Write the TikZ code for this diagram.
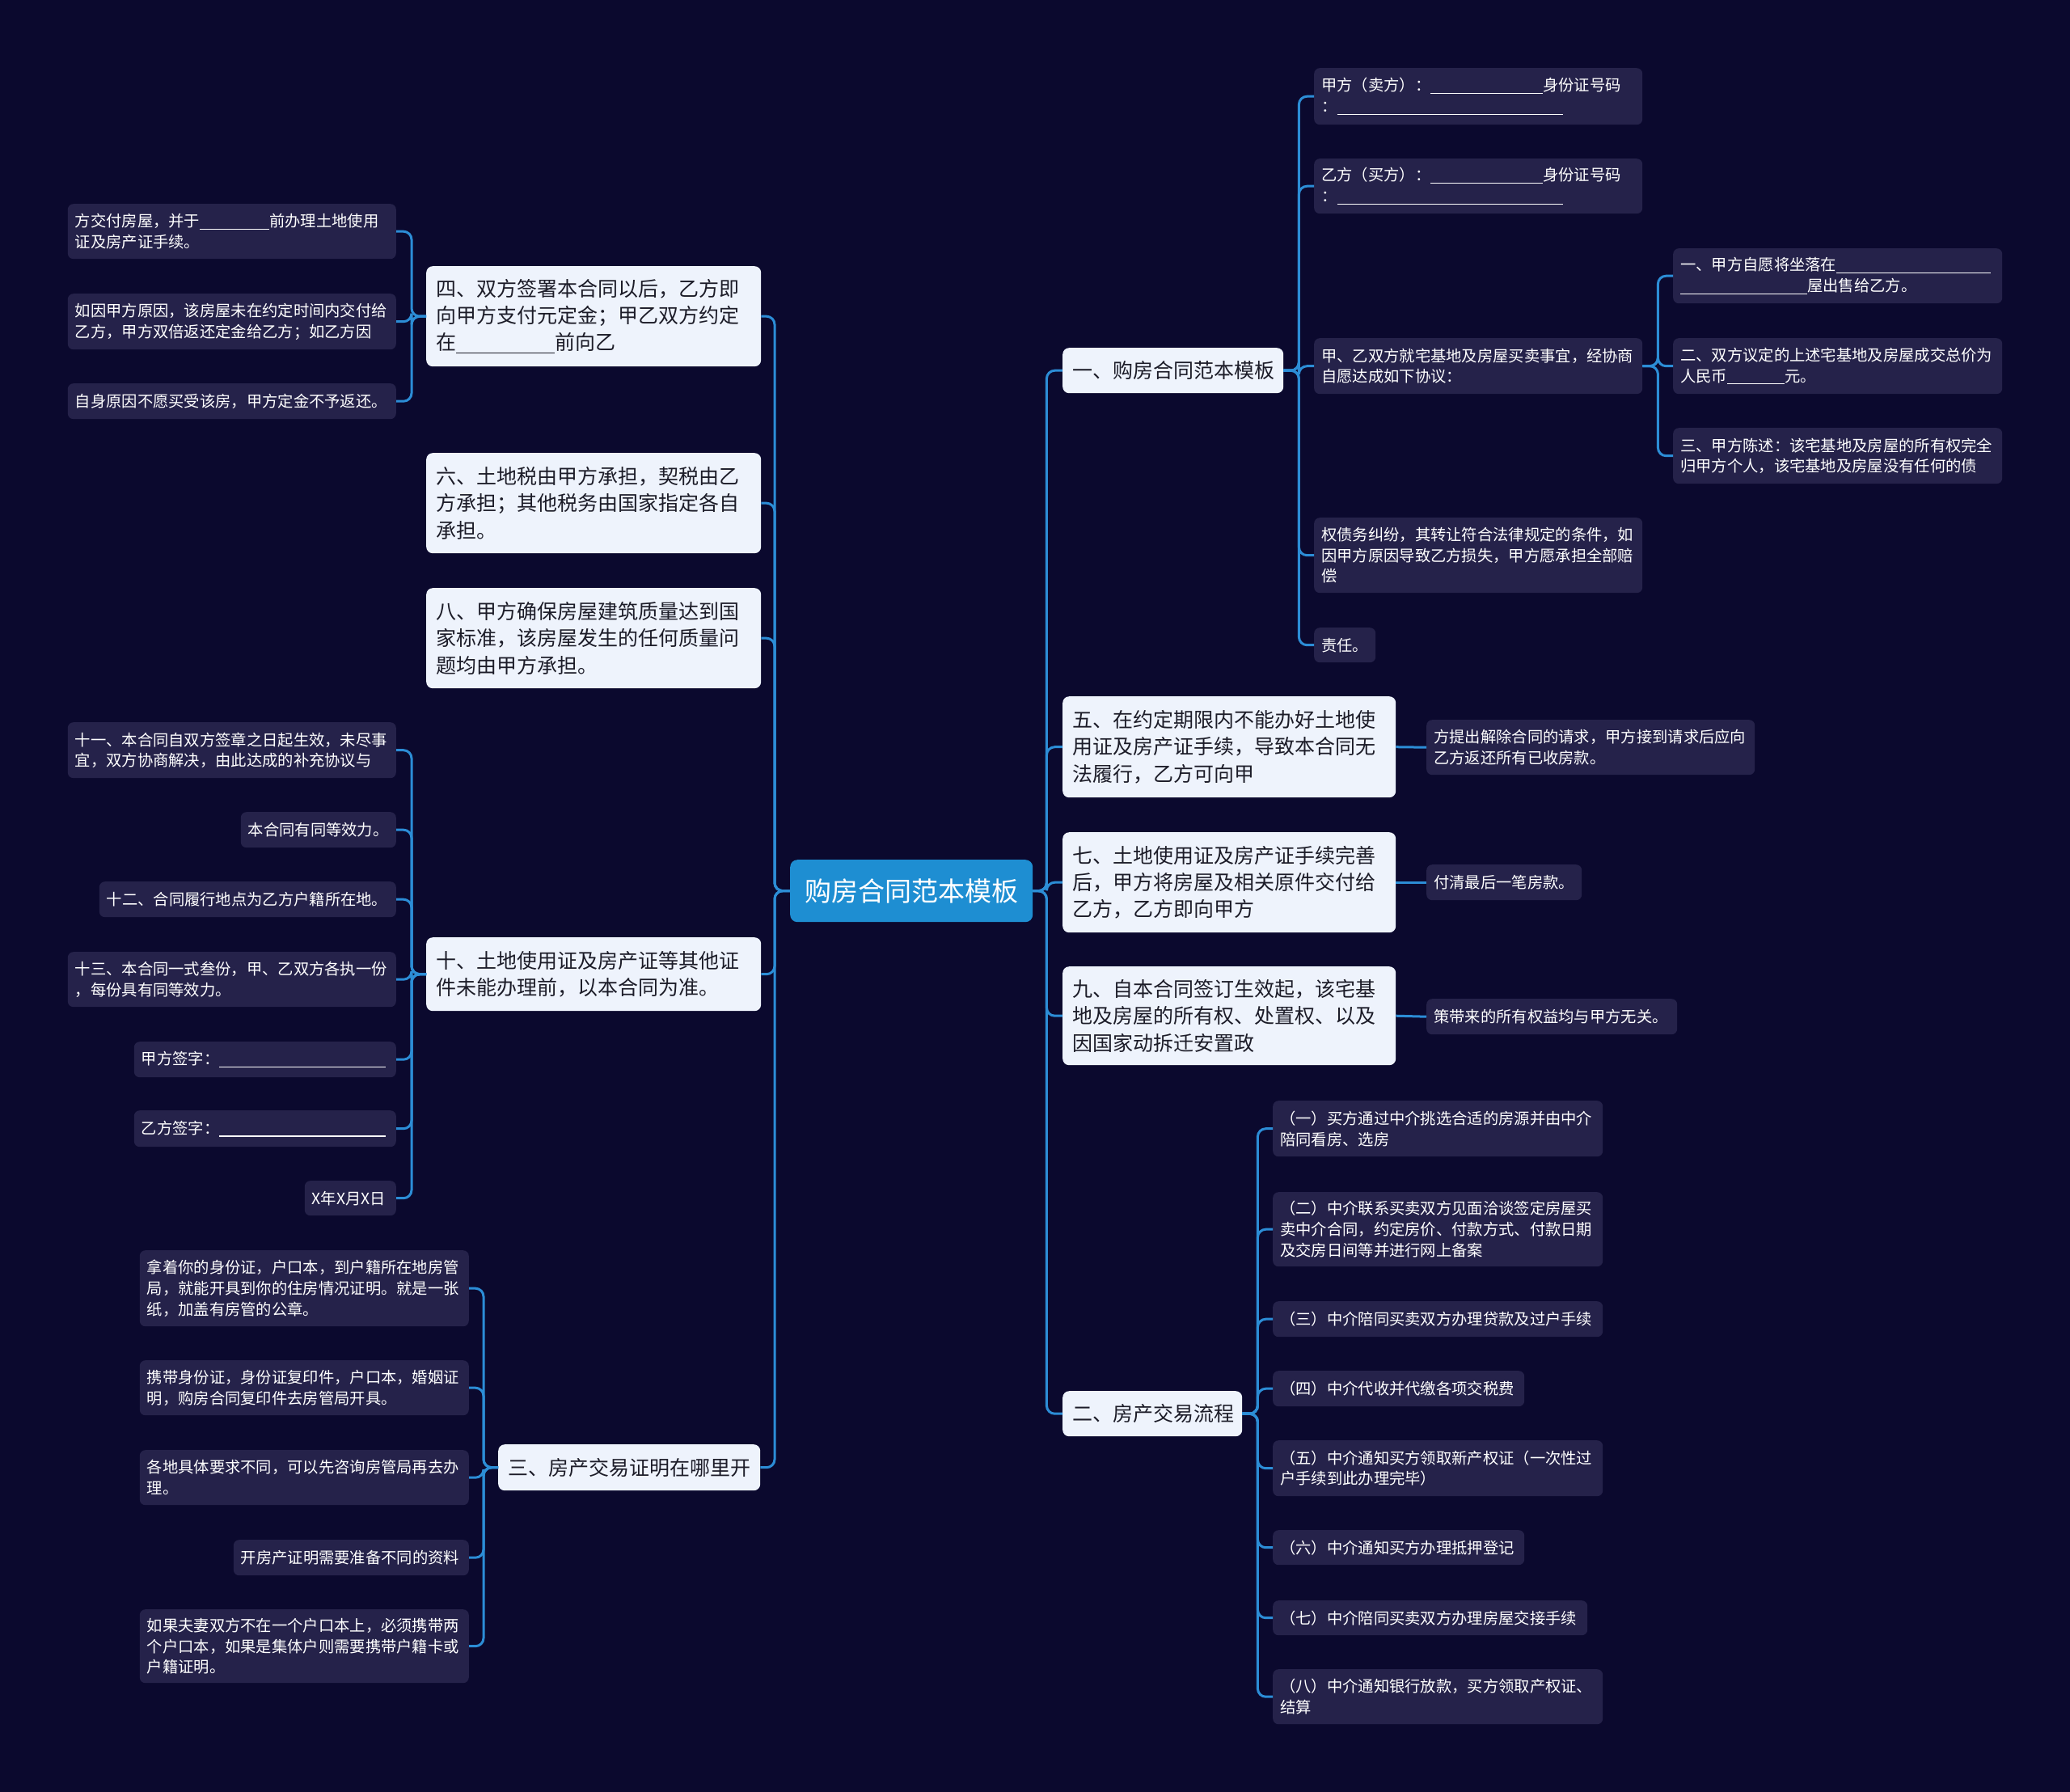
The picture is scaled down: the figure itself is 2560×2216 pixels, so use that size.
\documentclass[tikz,border=0pt]{standalone}
\usepackage{fontspec}
\newfontfamily\cjk{Noto Sans CJK SC}
\definecolor{bgc}{RGB}{11,9,46}
\definecolor{leafc}{RGB}{37,34,74}
\definecolor{mainc}{RGB}{238,243,252}
\definecolor{maintext}{RGB}{28,28,40}
\definecolor{rootc}{RGB}{30,142,210}
\definecolor{linec}{RGB}{44,141,214}
\newcommand\blank[1]{\rule[-0.18em]{#1pt}{1.4pt}}
\tikzset{
  leaf/.style={fill=leafc, rounded corners=7pt, text=white, font=\cjk\fontsize{19.3}{25.7}\selectfont, inner xsep=9pt, inner ysep=2pt, align=left},
  mainbox/.style={fill=mainc, rounded corners=8pt, text=maintext, font=\cjk\fontsize{25}{33.3}\selectfont, inner xsep=12pt, inner ysep=2pt, align=left, anchor=north west},
  rootbox/.style={fill=rootc, rounded corners=9pt, text=white, font=\cjk\fontsize{33}{40}\selectfont, inner sep=0pt, anchor=north west},
  conn/.style={draw=linec, line width=3pt, rounded corners=10pt},
}
\begin{document}
\begin{tikzpicture}[x=1pt,y=-1pt]
\fill[bgc] (0,0) rectangle (2560,2216);
\useasboundingbox (0,0) rectangle (2560,2216);

% root
\node[rootbox, minimum width=300pt, minimum height=77pt] (root) at (977,1063) {购房合同范本模板};

% right main branches
\node[mainbox, text width=249pt, minimum height=56pt] (r1) at (1314,430) {一、购房合同范本模板};
\node[mainbox, text width=388pt, minimum height=125pt] (r5) at (1314,861) {五、在约定期限内不能办好土地使\\用证及房产证手续，导致本合同无\\法履行，乙方可向甲};
\node[mainbox, text width=388pt, minimum height=124pt] (r7) at (1314,1029) {七、土地使用证及房产证手续完善\\后，甲方将房屋及相关原件交付给\\乙方，乙方即向甲方};
\node[mainbox, text width=388pt, minimum height=122pt] (r9) at (1314,1195) {九、自本合同签订生效起，该宅基\\地及房屋的所有权、处置权、以及\\因国家动拆迁安置政};
\node[mainbox, text width=198pt, minimum height=56pt] (r2) at (1314,1720) {二、房产交易流程};

% children of r1
\node[leaf, anchor=north west, text width=388pt, minimum height=70pt] (a1) at (1625,84) {甲方（卖方）：\blank{139}身份证号码\\：\blank{279}};
\node[leaf, anchor=north west, text width=388pt, minimum height=68pt] (a2) at (1625,196) {乙方（买方）：\blank{139}身份证号码\\：\blank{279}};
\node[leaf, anchor=north west, text width=388pt, minimum height=69pt] (a3) at (1625,418) {甲、乙双方就宅基地及房屋买卖事宜，经协商\\自愿达成如下协议：};
\node[leaf, anchor=north west, text width=388pt, minimum height=93pt] (a4) at (1625,640) {权债务纠纷，其转让符合法律规定的条件，如\\因甲方原因导致乙方损失，甲方愿承担全部赔\\偿};
\node[leaf, anchor=north west, text width=58pt, minimum height=43pt] (a5) at (1625,776) {责任。};
\node[leaf, anchor=north west, text width=389pt, minimum height=68pt] (a31) at (2069,307) {一、甲方自愿将坐落在\blank{191}\\\blank{157}屋出售给乙方。};
\node[leaf, anchor=north west, text width=389pt, minimum height=69pt] (a32) at (2069,418) {二、双方议定的上述宅基地及房屋成交总价为\\人民币\blank{71}元。};
\node[leaf, anchor=north west, text width=389pt, minimum height=69pt] (a33) at (2069,529) {三、甲方陈述：该宅基地及房屋的所有权完全\\归甲方个人，该宅基地及房屋没有任何的债};

% leaves of r5, r7, r9
\node[leaf, anchor=north west, text width=388pt, minimum height=68pt] (b5) at (1764,890) {方提出解除合同的请求，甲方接到请求后应向\\乙方返还所有已收房款。};
\node[leaf, anchor=north west, text width=174pt, minimum height=44pt] (b7) at (1764,1069) {付清最后一笔房款。};
\node[leaf, anchor=north west, text width=292pt, minimum height=44pt] (b9) at (1764,1235) {策带来的所有权益均与甲方无关。};

% leaves of r2
\node[leaf, anchor=north west, text width=390pt, minimum height=69pt] (e1) at (1574,1361) {（一）买方通过中介挑选合适的房源并由中介\\陪同看房、选房};
\node[leaf, anchor=north west, text width=390pt, minimum height=92pt] (e2) at (1574,1474) {（二）中介联系买卖双方见面洽谈签定房屋买\\卖中介合同，约定房价、付款方式、付款日期\\及交房日间等并进行网上备案};
\node[leaf, anchor=north west, text width=390pt, minimum height=44pt] (e3) at (1574,1609) {（三）中介陪同买卖双方办理贷款及过户手续};
\node[leaf, anchor=north west, text width=293pt, minimum height=44pt] (e4) at (1574,1695) {（四）中介代收并代缴各项交税费};
\node[leaf, anchor=north west, text width=390pt, minimum height=69pt] (e5) at (1574,1781) {（五）中介通知买方领取新产权证（一次性过\\户手续到此办理完毕）};
\node[leaf, anchor=north west, text width=293pt, minimum height=43pt] (e6) at (1574,1892) {（六）中介通知买方办理抵押登记};
\node[leaf, anchor=north west, text width=371pt, minimum height=43pt] (e7) at (1574,1979) {（七）中介陪同买卖双方办理房屋交接手续};
\node[leaf, anchor=north west, text width=390pt, minimum height=68pt] (e8) at (1574,2064) {（八）中介通知银行放款，买方领取产权证、\\结算};

% left main branches
\node[mainbox, text width=390pt, minimum height=124pt] (l4) at (527,329) {四、双方签署本合同以后，乙方即\\向甲方支付元定金；甲乙双方约定\\在\blank{122}前向乙};
\node[mainbox, text width=390pt, minimum height=124pt] (l6) at (527,560) {六、土地税由甲方承担，契税由乙\\方承担；其他税务由国家指定各自\\承担。};
\node[mainbox, text width=390pt, minimum height=124pt] (l8) at (527,727) {八、甲方确保房屋建筑质量达到国\\家标准，该房屋发生的任何质量问\\题均由甲方承担。};
\node[mainbox, text width=390pt, minimum height=91pt] (l10) at (527,1159) {十、土地使用证及房产证等其他证\\件未能办理前，以本合同为准。};
\node[mainbox, text width=300pt, minimum height=57pt] (l3) at (616,1786) {三、房产交易证明在哪里开};

% leaves of l4
\node[leaf, anchor=north east, text width=388pt, minimum height=68pt] (f1) at (490,252) {方交付房屋，并于\blank{86}前办理土地使用\\证及房产证手续。};
\node[leaf, anchor=north east, text width=388pt, minimum height=69pt] (f2) at (490,363) {如因甲方原因，该房屋未在约定时间内交付给\\乙方，甲方双倍返还定金给乙方；如乙方因};
\node[leaf, anchor=north east, text width=388pt, minimum height=44pt] (f3) at (490,474) {自身原因不愿买受该房，甲方定金不予返还。};

% leaves of l10
\node[leaf, anchor=north east, text width=388pt, minimum height=69pt] (g1) at (490,893) {十一、本合同自双方签章之日起生效，未尽事\\宜，双方协商解决，由此达成的补充协议与};
\node[leaf, anchor=north east, text width=174pt, minimum height=44pt] (g2) at (490,1004) {本合同有同等效力。};
\node[leaf, anchor=north east, text width=349pt, minimum height=44pt] (g3) at (490,1090) {十二、合同履行地点为乙方户籍所在地。};
\node[leaf, anchor=north east, text width=388pt, minimum height=68pt] (g4) at (490,1177) {十三、本合同一式叁份，甲、乙双方各执一份\\，每份具有同等效力。};
\node[leaf, anchor=north east, text width=306pt, minimum height=44pt] (g5) at (490,1288) {甲方签字：\blank{206}};
\node[leaf, anchor=north east, text width=306pt, minimum height=45pt] (g6) at (490,1373) {乙方签字：\blank{206}};
\node[leaf, anchor=north east, text width=95pt, minimum height=43pt] (g7) at (490,1460) {X年X月X日};

% leaves of l3
\node[leaf, anchor=north east, text width=389pt, minimum height=94pt] (h1) at (580,1546) {拿着你的身份证，户口本，到户籍所在地房管\\局，就能开具到你的住房情况证明。就是一张\\纸，加盖有房管的公章。};
\node[leaf, anchor=north east, text width=389pt, minimum height=68pt] (h2) at (580,1682) {携带身份证，身份证复印件，户口本，婚姻证\\明，购房合同复印件去房管局开具。};
\node[leaf, anchor=north east, text width=389pt, minimum height=68pt] (h3) at (580,1793) {各地具体要求不同，可以先咨询房管局再去办\\理。};
\node[leaf, anchor=north east, text width=273pt, minimum height=44pt] (h4) at (580,1904) {开房产证明需要准备不同的资料};
\node[leaf, anchor=north east, text width=389pt, minimum height=91pt] (h5) at (580,1990) {如果夫妻双方不在一个户口本上，必须携带两\\个户口本，如果是集体户则需要携带户籍卡或\\户籍证明。};

% connectors: root right
\foreach \c in {r1,r5,r7,r9,r2}
  \draw[conn] (root.east) -- ++(17,0) |- (\c.west);
% root left
\foreach \c in {l4,l6,l8,l10,l3}
  \draw[conn] (root.west) -- ++(-19,0) |- (\c.east);
% r1 children
\foreach \c in {a1,a2,a3,a4,a5}
  \draw[conn] (r1.east) -- ++(19,0) |- (\c.west);
\foreach \c in {a31,a32,a33}
  \draw[conn] (a3.east) -- ++(19,0) |- (\c.west);
\draw[conn] (r5.east) -- (b5.west);
\draw[conn] (r7.east) -- (b7.west);
\draw[conn] (r9.east) -- (b9.west);
\foreach \c in {e1,e2,e3,e4,e5,e6,e7,e8}
  \draw[conn] (r2.east) -- ++(19,0) |- (\c.west);
% left children
\foreach \c in {f1,f2,f3}
  \draw[conn] (l4.west) -- ++(-18,0) |- (\c.east);
\foreach \c in {g1,g2,g3,g4,g5,g6,g7}
  \draw[conn] (l10.west) -- ++(-18,0) |- (\c.east);
\foreach \c in {h1,h2,h3,h4,h5}
  \draw[conn] (l3.west) -- ++(-18,0) |- (\c.east);
\end{tikzpicture}
\end{document}
